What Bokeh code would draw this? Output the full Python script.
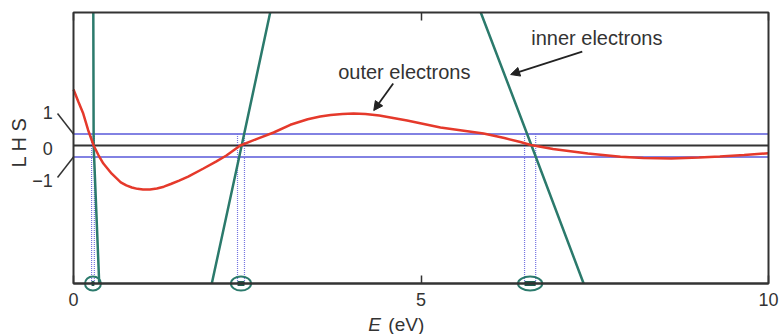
import numpy as np
from bokeh.plotting import figure
from bokeh.models import (Range1d, LinearAxis, FixedTicker, BoxAnnotation,
                          Label, Arrow, NormalHead)
from bokeh.embed import file_html
from bokeh.resources import INLINE

# ---------------- data ----------------
outer_E = [0.0, 0.07, 0.14, 0.21, 0.29, 0.36, 0.43, 0.55, 0.68, 0.76, 0.84, 0.92,
           1.0, 1.1, 1.2, 1.3, 1.4, 1.52, 1.65, 1.87, 2.05, 2.2, 2.4, 2.65, 2.88,
           3.12, 3.37, 3.55, 3.7, 3.87, 4.03, 4.2, 4.4, 4.6, 4.8, 5.28, 5.9, 6.2,
           6.43, 6.58, 6.9, 7.4, 7.87, 8.2, 8.6, 9.0, 9.3, 9.65, 10.0]
outer_LHS = [4.87, 3.8, 2.78, 1.35, 0.0, -0.85, -1.57, -2.45, -3.2, -3.47, -3.65,
             -3.77, -3.83, -3.82, -3.74, -3.58, -3.35, -3.05, -2.7, -2.0, -1.4,
             -0.87, 0.0, 0.6, 1.13, 1.8, 2.28, 2.52, 2.65, 2.74, 2.78, 2.74, 2.6,
             2.4, 2.17, 1.57, 1.04, 0.65, 0.3, 0.05, -0.3, -0.7, -0.98, -1.08,
             -1.12, -1.05, -0.95, -0.82, -0.68]

inner_E = [[0.285, 0.29, 0.37], [1.99, 2.42, 2.83], [5.86, 6.59, 7.34]]
inner_LHS = [[11.57, 0.0, -12.0], [-12.0, 0.0, 11.57], [11.57, 0.0, -12.0]]

band_lo = [0.26, 2.36, 6.49]
band_hi = [0.30, 2.46, 6.65]

x_ticks = [0, 5, 10]
y_tick_values = [1, 0, -1]
y_tick_labels = ["1", "0", "\u22121"]

X_MIN, X_MAX = 0.0, 10.0
Y_BOTTOM, Y_TOP = -12.0, 11.57

# ---------------- styles ----------------
RED = "#e5392b"
GREEN = "#2b7a6c"
BLUE = "#7474e0"
DARK = "#333333"
FONT = "Liberation Sans"

# the frame fills the whole canvas; the plotting box is drawn inside it
PX_X, PX_Y = 69.5, 11.5       # pixels per unit
X0_PX, Y0_PX = 73.0, 145.0    # pixel position of E=0 and LHS=0
W, H = 782, 334

p = figure(width=W, height=H, output_backend="svg", toolbar_location=None,
           x_range=Range1d(-X0_PX / PX_X, (W - X0_PX) / PX_X),
           y_range=Range1d(-(H - Y0_PX) / PX_Y, Y0_PX / PX_Y),
           x_axis_location=None, y_axis_location=None,
           min_border_left=0, min_border_right=0, min_border_top=0,
           min_border_bottom=0)
p.grid.visible = False
p.outline_line_color = None
p.background_fill_color = "white"
p.border_fill_color = "white"

# frame box
p.add_layout(BoxAnnotation(left=X_MIN, right=X_MAX, bottom=Y_BOTTOM, top=Y_TOP,
                           fill_color=None, fill_alpha=0, line_color=DARK,
                           line_alpha=1.0, line_width=2))

# horizontal reference lines
p.segment(x0=[X_MIN, X_MIN], y0=[1, -1], x1=[X_MAX, X_MAX], y1=[1, -1],
          line_color=BLUE, line_width=2, line_alpha=0.9)
p.segment(x0=[X_MIN], y0=[0], x1=[X_MAX], y1=[0], line_color=DARK, line_width=2)

# dotted band edges
edges = band_lo + band_hi
p.segment(x0=edges, y0=[1] * len(edges), x1=edges, y1=[Y_BOTTOM] * len(edges),
          line_color=BLUE, line_dash="1 1", line_width=1.2)

# inner electrons
p.multi_line(xs=inner_E, ys=inner_LHS, line_color=GREEN, line_width=2.5)

# outer electrons
p.line(outer_E, outer_LHS, line_color=RED, line_width=2.5)

# band markers
mid = [(a + b) / 2 for a, b in zip(band_lo, band_hi)]
wid = [b - a for a, b in zip(band_lo, band_hi)]
p.rect(x=mid, y=[Y_BOTTOM] * 3, width=wid, height=5, height_units="screen",
       fill_color="#1e5b50", line_color=None)
p.ellipse(x=mid, y=[Y_BOTTOM] * 3, width=[w + 0.19 for w in wid], height=14,
          height_units="screen", fill_color=None, line_color=GREEN, line_width=2)

# axes
xaxis = LinearAxis(fixed_location=Y_BOTTOM, ticker=FixedTicker(ticks=x_ticks),
                   bounds=(X_MIN, X_MAX))
xaxis.axis_line_color = DARK
xaxis.axis_line_width = 2
xaxis.major_tick_in = 8
xaxis.major_tick_out = 0
xaxis.major_tick_line_color = DARK
xaxis.major_tick_line_width = 1.5
xaxis.minor_tick_line_color = None
xaxis.major_label_standoff = 9
xaxis.major_label_text_font = FONT
xaxis.major_label_text_font_size = "18px"
xaxis.major_label_text_color = DARK
p.add_layout(xaxis, "below")

top_axis = LinearAxis(fixed_location=Y_TOP, ticker=FixedTicker(ticks=x_ticks),
                      bounds=(X_MIN, X_MAX))
top_axis.axis_line_color = None
top_axis.major_tick_in = 8
top_axis.major_tick_out = 0
top_axis.major_tick_line_color = DARK
top_axis.major_tick_line_width = 1.5
top_axis.minor_tick_line_color = None
top_axis.major_label_text_color = None
top_axis.major_label_text_font_size = "0px"
p.add_layout(top_axis, "above")

# y tick labels with leader lines
label_y = [2.87, -0.26, -3.04]
for txt, ly in zip(y_tick_labels, label_y):
    p.add_layout(Label(x=-0.30, y=ly, text=txt, text_align="right",
                       text_baseline="middle", text_font=FONT,
                       text_font_size="18px", text_color=DARK))
for yv in [1, -1]:
    p.add_layout(Arrow(end=None, x_start=-0.23, y_start=2.78 * yv, x_end=0.0,
                       y_end=yv, line_color=DARK, line_width=1.5))

p.add_layout(Label(x=-0.79, y=0.26, text="L H S", angle=np.pi / 2,
                   text_align="center", text_baseline="middle", text_font=FONT,
                   text_font_size="20px", text_color=DARK))

# x axis label
p.add_layout(Label(x=4.24, y=-15.6, text="E", text_align="left",
                   text_baseline="alphabetic", text_font=FONT,
                   text_font_style="italic", text_font_size="19px",
                   text_color=DARK))
p.add_layout(Label(x=4.53, y=-15.6, text="(eV)", text_align="left",
                   text_baseline="alphabetic", text_font=FONT,
                   text_font_size="19px", text_color=DARK))

# annotations
p.add_layout(Label(x=4.76, y=6.43, text="outer electrons", text_align="center",
                   text_baseline="middle", text_font=FONT, text_font_size="20px",
                   text_color=DARK))
p.add_layout(Label(x=7.53, y=9.39, text="inner electrons", text_align="center",
                   text_baseline="middle", text_font=FONT, text_font_size="20px",
                   text_color=DARK))
head = dict(size=9, fill_color="#222222", line_color="#222222")
p.add_layout(Arrow(end=NormalHead(**head), x_start=4.60, y_start=5.39,
                   x_end=4.32, y_end=3.04, line_color="#222222", line_width=1.8))
p.add_layout(Arrow(end=NormalHead(**head), x_start=7.32, y_start=8.17,
                   x_end=6.29, y_end=6.17, line_color="#222222", line_width=1.8))

open("out.html", "w").write(file_html(p, INLINE))
